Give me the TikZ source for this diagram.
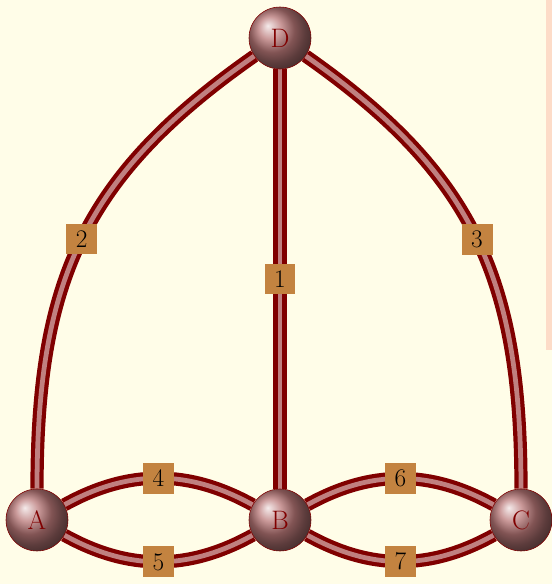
\documentclass[tikz,border=0pt]{standalone}
\usetikzlibrary{backgrounds}
\definecolor{paper}{RGB}{255,253,232}
\definecolor{strip}{RGB}{253,220,200}
\definecolor{bridge}{RGB}{128,0,0}
\definecolor{bridgein}{RGB}{192,128,128}
\definecolor{tagfill}{RGB}{195,131,64}
\definecolor{ballcol}{RGB}{185,120,120}
\pgfdeclarelayer{paper}
\pgfsetlayers{paper,background,main}
\tikzset{
  land/.style={circle,ball color=ballcol,draw=bridge,thin,minimum size=1.55cm,
    inner sep=0pt,text=bridge,font=\fontsize{19}{22}\selectfont},
  bridgeline/.style={draw=bridge,line width=3pt,double=bridgein,double distance=3.4pt},
  numtag/.style={fill=tagfill,minimum size=22pt,inner sep=0pt,font=\fontsize{18}{21}\selectfont}
}

\begin{document}
\begin{tikzpicture}

  \useasboundingbox (0,0) rectangle (13.8,14.6);
  \begin{pgfonlayer}{paper}
    \fill[paper] (0,0) rectangle (13.8,14.6);
    \fill[strip] (13.65,5.85) rectangle (13.8,14.6);
  \end{pgfonlayer}

  % land masses
  \node[land] (A) at (0.925,1.6) {A};
  \node[land] (B) at (7.0,1.6) {B};
  \node[land] (C) at (13.025,1.6) {C};
  \node[land] (D) at (7.0,13.65) {D};

  % bridges
  \begin{scope}[on background layer]
    \draw[bridgeline] (D) -- node[numtag]{1} (B);
    \draw[bridgeline] (D) to[out=215,in=90,looseness=1.1] node[numtag]{2} (A);
    \draw[bridgeline] (D) to[out=-35,in=90,looseness=1.1] node[numtag]{3} (C);
    \draw[bridgeline] (A) to[bend left=29] node[numtag]{4} (B);
    \draw[bridgeline] (A) to[bend right=29] node[numtag]{5} (B);
    \draw[bridgeline] (B) to[bend left=29] node[numtag]{6} (C);
    \draw[bridgeline] (B) to[bend right=29] node[numtag]{7} (C);
  \end{scope}

\end{tikzpicture}
\end{document}
